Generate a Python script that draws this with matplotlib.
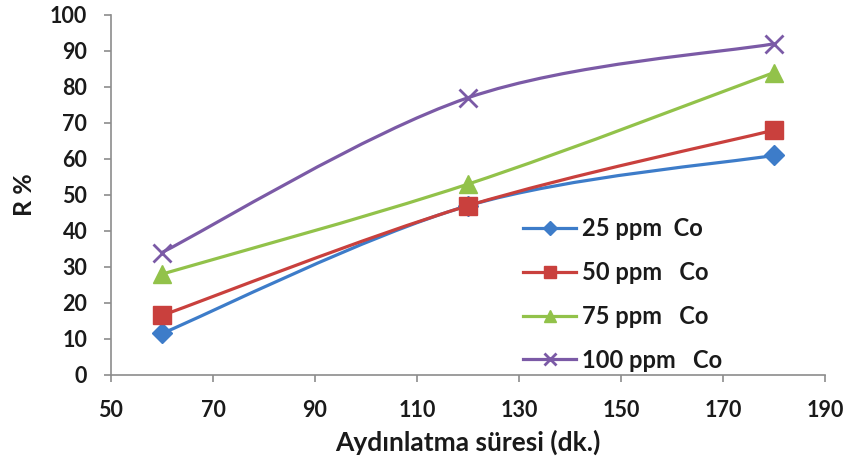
import numpy as np
import matplotlib.pyplot as plt
from matplotlib.path import Path
from matplotlib.patches import PathPatch
from matplotlib.lines import Line2D

plt.rcParams['font.family'] = ['Lato', 'DejaVu Sans']
plt.rcParams['font.weight'] = 'bold'

# Illumination time (min) and removal percentage for each Co concentration
times = [60, 120, 180]
r_25 = [11.5, 47, 61]
r_50 = [16.5, 47, 68]
r_75 = [28, 53, 84]
r_100 = [34, 77, 92]

labels = ["25 ppm  Co", "50 ppm   Co", "75 ppm   Co", "100 ppm   Co"]
series = [r_25, r_50, r_75, r_100]
colors = ["#3d7cc9", "#c9403d", "#92c24a", "#7b5aa6"]
markers = ["D", "s", "^", "x"]
msizes = [10, 13, 13, 13]

xticks = np.arange(50, 191, 20)
yticks = np.arange(0, 101, 10)


def smooth_path(x, y):
    # spreadsheet-style smoothed line: cubic Bezier through every point
    pts = np.column_stack([x, y]).astype(float)
    ext = np.vstack([pts[0], pts, pts[-1]])
    verts = [pts[0]]
    codes = [Path.MOVETO]
    for i in range(len(pts) - 1):
        p0, p1, p2, p3 = ext[i], ext[i + 1], ext[i + 2], ext[i + 3]
        c1 = p1 + (p2 - p0) / 6
        c2 = p2 - (p3 - p1) / 6
        verts += [c1, c2, p2]
        codes += [Path.CURVE4] * 3
    return Path(verts, codes)


fig = plt.figure(figsize=(8.47, 4.68), dpi=100)
ax = fig.add_axes([0.131, 0.199, 0.843, 0.769])

handles = []
for vals, c, m, ms, lab in zip(series, colors, markers, msizes, labels):
    ax.add_patch(PathPatch(smooth_path(times, vals), fill=False,
                           edgecolor=c, lw=2.3, zorder=2))
    mew = 2.0 if m == "x" else 1.0
    ax.plot(times, vals, ls="none", marker=m, ms=ms, color=c,
            mec=c, mew=mew, zorder=3)
    handles.append(Line2D([], [], color=c, lw=2.3, marker=m,
                          ms=ms * 0.7, mew=mew, label=lab))

ax.set_xlim(50, 190)
ax.set_ylim(0, 100)
ax.set_xticks(xticks)
ax.set_yticks(yticks)

for s in ["top", "right"]:
    ax.spines[s].set_visible(False)
for s in ["left", "bottom"]:
    ax.spines[s].set_color("#8c8c8c")
    ax.spines[s].set_linewidth(1.2)
ax.tick_params(direction="out", length=5, width=1.2, color="#8c8c8c",
               labelsize=15.5, labelcolor="#1a1a1a")
ax.tick_params(axis="x", pad=13)
ax.tick_params(axis="y", pad=12)

ax.set_xlabel("Aydınlatma süresi (dk.)", fontsize=19, fontweight="bold",
              color="#1a1a1a", labelpad=6)
ax.set_ylabel("R %", fontsize=18, fontweight="bold", color="#1a1a1a",
              labelpad=10)

leg = ax.legend(handles=handles, loc="upper left",
                bbox_to_anchor=(0.577, 0.438), frameon=False, numpoints=1,
                fontsize=17, labelspacing=0.88, handlelength=2.25,
                handletextpad=0.25, borderaxespad=0, borderpad=0)
for t in leg.get_texts():
    t.set_color("#1a1a1a")
    t.set_fontweight("bold")

fig.savefig("out.png", dpi=100)
